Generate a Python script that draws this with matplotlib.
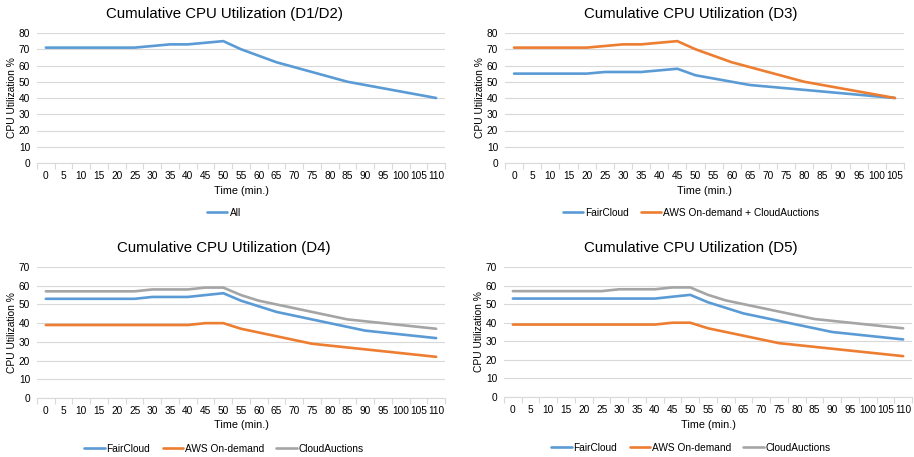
import matplotlib
matplotlib.use("Agg")
import matplotlib.pyplot as plt
import numpy as np

plt.rcParams["font.family"] = ["Liberation Sans", "DejaVu Sans"]

BLUE = "#5B9BD5"
ORANGE = "#ED7D31"
GRAY = "#A5A5A5"
GRID = "#D9D9D9"

# ---- data ----
times_110 = list(range(0, 115, 5))
times_105 = list(range(0, 110, 5))

d12_all = [71, 71, 71, 71, 71, 71, 72, 73, 73, 74, 75, 70,
           66, 62, 59, 56, 53, 50, 48, 46, 44, 42, 40]

d3_faircloud = [55, 55, 55, 55, 55, 56, 56, 56, 57, 58, 54,
                52, 50, 48, 47, 46, 45, 44, 43, 42, 41, 40]
d3_aws_ca = [71, 71, 71, 71, 71, 72, 73, 73, 74, 75, 70,
             66, 62, 59, 56, 53, 50, 48, 46, 44, 42, 40]

d4_faircloud = [53, 53, 53, 53, 53, 53, 54, 54, 54, 55, 56, 52,
                49, 46, 44, 42, 40, 38, 36, 35, 34, 33, 32]
d4_aws = [39, 39, 39, 39, 39, 39, 39, 39, 39, 40, 40, 37,
          35, 33, 31, 29, 28, 27, 26, 25, 24, 23, 22]
d4_auctions = [57, 57, 57, 57, 57, 57, 58, 58, 58, 59, 59, 55,
               52, 50, 48, 46, 44, 42, 41, 40, 39, 38, 37]

d5_faircloud = [53, 53, 53, 53, 53, 53, 53, 53, 53, 54, 55, 51,
                48, 45, 43, 41, 39, 37, 35, 34, 33, 32, 31]
d5_aws = [39, 39, 39, 39, 39, 39, 39, 39, 39, 40, 40, 37,
          35, 33, 31, 29, 28, 27, 26, 25, 24, 23, 22]
d5_auctions = [57, 57, 57, 57, 57, 57, 58, 58, 58, 59, 59, 55,
               52, 50, 48, 46, 44, 42, 41, 40, 39, 38, 37]

W, H = 914, 457
fig = plt.figure(figsize=(W / 100, H / 100), dpi=100)


def px_axes(x0, y_top, x1, y_bottom):
    return fig.add_axes([x0 / W, 1 - y_bottom / H, (x1 - x0) / W, (y_bottom - y_top) / H])


def excel_line(ax, cats, series, ymax, title, center_x, title_y, legend_y):
    n = len(cats)
    x = np.arange(n)
    for label, values, color in series:
        ax.plot(x, values, color=color, lw=1.9, label=label, solid_capstyle="round")
    ax.set_xlim(-0.5, n - 0.5)
    ax.set_ylim(0, ymax)
    ax.set_yticks(range(0, ymax + 1, 10))
    ax.set_xticks(x)
    ax.set_xticklabels([str(c) for c in cats])
    # tick marks sit between categories, like a category axis
    ax.set_xticks(np.arange(n + 1) - 0.5, minor=True)
    ax.tick_params(axis="x", which="major", length=0, pad=6, labelsize=7.3)
    ax.tick_params(axis="x", which="minor", length=4, color=GRID, width=0.8)
    ax.tick_params(axis="y", length=0, pad=5, labelsize=7.3)
    ax.grid(axis="y", color=GRID, lw=0.8)
    ax.set_axisbelow(True)
    for s in ["top", "right", "left"]:
        ax.spines[s].set_visible(False)
    ax.spines["bottom"].set_color(GRID)
    ax.spines["bottom"].set_linewidth(0.8)
    fig.text(center_x / W, 1 - title_y / H, title, fontsize=10.8,
             ha="center", va="center")
    ax.set_xlabel("Time (min.)", fontsize=7.8, labelpad=3)
    ax.set_ylabel("CPU Utilization %", fontsize=7.4, labelpad=1.5)
    fig.legend(*ax.get_legend_handles_labels(), loc="center",
               bbox_to_anchor=(center_x / W, 1 - legend_y / H),
               ncol=len(series), frameon=False, fontsize=7.3,
               handlelength=2.0, columnspacing=1.2, handletextpad=0.2)


ax1 = px_axes(37, 33, 445, 163)
excel_line(ax1, times_110, [("All", d12_all, BLUE)], 80,
           "Cumulative CPU Utilization (D1/D2)", 224, 14, 213)

ax2 = px_axes(505, 33, 904, 163)
excel_line(ax2, times_105,
           [("FairCloud", d3_faircloud, BLUE),
            ("AWS On-demand + CloudAuctions", d3_aws_ca, ORANGE)], 80,
           "Cumulative CPU Utilization (D3)", 691, 14, 213)

ax3 = px_axes(37, 267, 445, 398)
excel_line(ax3, times_110,
           [("FairCloud", d4_faircloud, BLUE),
            ("AWS On-demand", d4_aws, ORANGE),
            ("CloudAuctions", d4_auctions, GRAY)], 70,
           "Cumulative CPU Utilization (D4)", 224, 248, 449)

ax4 = px_axes(504, 267, 912, 397)
excel_line(ax4, times_110,
           [("FairCloud", d5_faircloud, BLUE),
            ("AWS On-demand", d5_aws, ORANGE),
            ("CloudAuctions", d5_auctions, GRAY)], 70,
           "Cumulative CPU Utilization (D5)", 691, 248, 448)

fig.savefig("out.png", dpi=100, facecolor="white")
